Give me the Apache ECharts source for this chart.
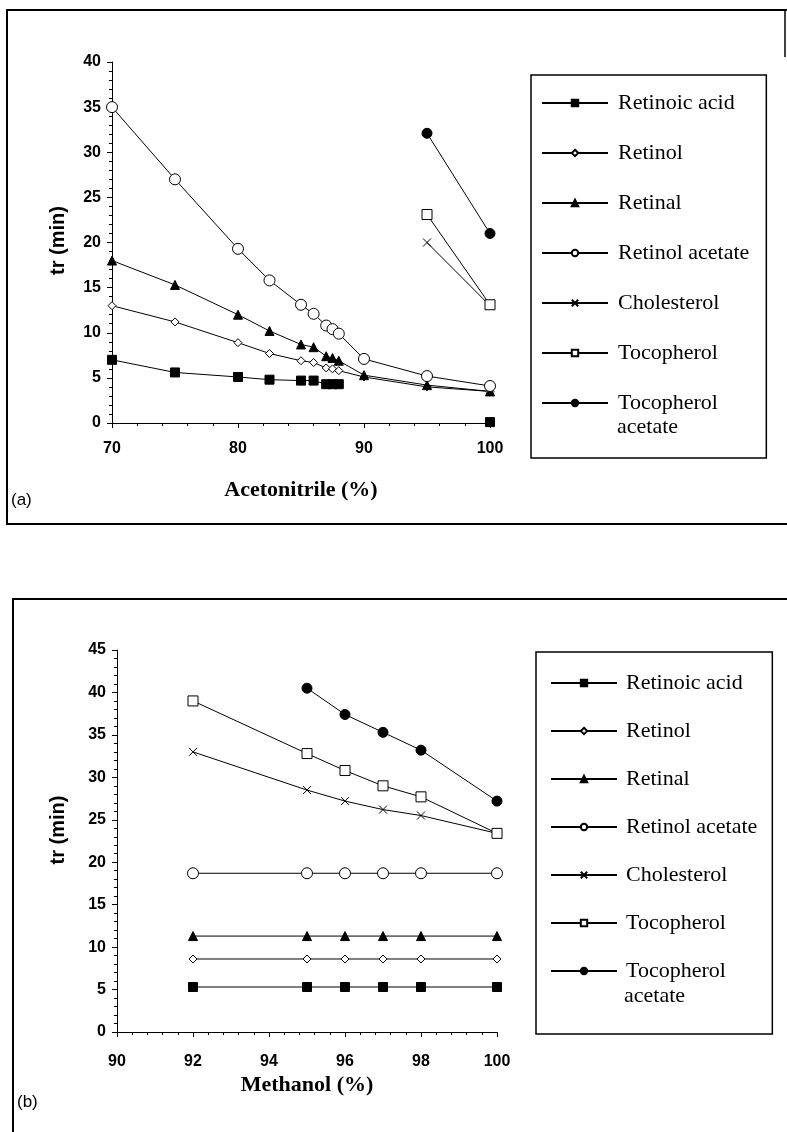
<!DOCTYPE html>
<html>
<head>
<meta charset="utf-8">
<script src="https://cdn.jsdelivr.net/npm/echarts@6/dist/echarts.min.js"></script>
<style>
  html, body { margin: 0; padding: 0; background: #fff; }
  #chart { width: 787px; height: 1132px; }
</style>
</head>
<body>
<div id="chart"></div>
<script>
// (a) acetonitrile
var acnX = [70, 75, 80, 82.5, 85, 86, 87, 87.5, 88, 90, 95, 100];
var acnRetinoicAcid = [7.0, 5.6, 5.1, 4.8, 4.7, 4.7, 4.3, 4.3, 4.3, null, null, 0.1];
var acnRetinol = [13.0, 11.2, 8.9, 7.7, 6.9, 6.7, 6.1, 6.0, 5.8, 5.1, 4.0, 3.5];
var acnRetinal = [18.0, 15.3, 12.0, 10.2, 8.7, 8.4, 7.4, 7.2, 6.9, 5.3, 4.2, 3.5];
var acnRetinolAcetate = [35.0, 27.0, 19.3, 15.8, 13.1, 12.1, 10.8, 10.4, 9.9, 7.1, 5.2, 4.1];
var acnCholesterol = [null, null, null, null, null, null, null, null, null, null, 20.0, 13.0];
var acnTocopherol = [null, null, null, null, null, null, null, null, null, null, 23.1, 13.1];
var acnTocopherolAcetate = [null, null, null, null, null, null, null, null, null, null, 32.1, 21.0];

// (b) methanol
var meohX = [92, 95, 96, 97, 98, 100];
var meohRetinoicAcid = [5.3, 5.3, 5.3, 5.3, 5.3, 5.3];
var meohRetinol = [8.6, 8.6, 8.6, 8.6, 8.6, 8.6];
var meohRetinal = [11.3, 11.3, 11.3, 11.3, 11.3, 11.3];
var meohRetinolAcetate = [18.7, 18.7, 18.7, 18.7, 18.7, 18.7];
var meohCholesterol = [33.0, 28.5, 27.2, 26.2, 25.5, 23.4];
var meohTocopherol = [39.0, 32.8, 30.8, 29.0, 27.7, 23.4];
var meohTocopherolAcetate = [null, 40.5, 37.4, 35.3, 33.2, 27.2];

var seriesNames = ['Retinoic acid', 'Retinol', 'Retinal', 'Retinol acetate', 'Cholesterol', 'Tocopherol', 'Tocopherol acetate'];
var yTicksA = [0, 5, 10, 15, 20, 25, 30, 35, 40];
var yTicksB = [0, 5, 10, 15, 20, 25, 30, 35, 40, 45];

// marker look per compound
var marks = {
  'Retinoic acid': { symbol: 'rect', size: 9, fill: '#000' },
  'Retinol': { symbol: 'diamond', size: 8, fill: '#fff' },
  'Retinal': { symbol: 'triangle', size: 9, fill: '#000' },
  'Retinol acetate': { symbol: 'circle', size: 11, fill: '#fff' },
  'Cholesterol': { symbol: 'path://M0,0L10,10M10,0L0,10', size: 8, fill: 'none' },
  'Tocopherol': { symbol: 'rect', size: 10, fill: '#fff' },
  'Tocopherol acetate': { symbol: 'circle', size: 10, fill: '#000' }
};

function pairs(xs, ys) {
  var out = [];
  for (var i = 0; i < xs.length; i++) {
    out.push([xs[i], ys[i] == null ? '-' : ys[i]]);
  }
  return out;
}

function makeSeries(name, xs, ys, idx) {
  var m = marks[name];
  return {
    name: name,
    type: 'line',
    xAxisIndex: idx,
    yAxisIndex: idx,
    data: pairs(xs, ys),
    symbol: m.symbol,
    symbolSize: m.size,
    showAllSymbol: true,
    connectNulls: false,
    animation: false,
    lineStyle: { color: '#000', width: 1 },
    itemStyle: { color: m.fill, borderColor: '#000', borderWidth: 1 },
    z: 3
  };
}

var series = [
  makeSeries('Retinoic acid', acnX, acnRetinoicAcid, 0),
  makeSeries('Retinol', acnX, acnRetinol, 0),
  makeSeries('Retinal', acnX, acnRetinal, 0),
  makeSeries('Retinol acetate', acnX, acnRetinolAcetate, 0),
  makeSeries('Cholesterol', acnX, acnCholesterol, 0),
  makeSeries('Tocopherol', acnX, acnTocopherol, 0),
  makeSeries('Tocopherol acetate', acnX, acnTocopherolAcetate, 0),
  makeSeries('Retinoic acid', meohX, meohRetinoicAcid, 1),
  makeSeries('Retinol', meohX, meohRetinol, 1),
  makeSeries('Retinal', meohX, meohRetinal, 1),
  makeSeries('Retinol acetate', meohX, meohRetinolAcetate, 1),
  makeSeries('Cholesterol', meohX, meohCholesterol, 1),
  makeSeries('Tocopherol', meohX, meohTocopherol, 1),
  makeSeries('Tocopherol acetate', meohX, meohTocopherolAcetate, 1)
];

var labelFont = { color: '#000', fontFamily: 'Liberation Sans', fontWeight: 'bold', fontSize: 16 };

function xAxisOf(idx, min, max, step, name, gap, margin) {
  return {
    type: 'value', gridIndex: idx, min: min, max: max, interval: step,
    name: name, nameLocation: 'middle', nameGap: gap,
    nameTextStyle: { color: '#000', fontFamily: 'Liberation Serif', fontWeight: 'bold', fontSize: 22 },
    axisLine: { show: true, onZero: false, lineStyle: { color: '#000', width: 1 } },
    axisTick: { show: true, inside: false, length: 5, lineStyle: { color: '#000' } },
    minorTick: { show: true, splitNumber: 5, length: 3, lineStyle: { color: '#000' } },
    splitLine: { show: false },
    axisLabel: Object.assign({ margin: margin }, labelFont)
  };
}

function yAxisOf(idx, ticks, gap, shift) {
  return {
    type: 'value', gridIndex: idx, min: ticks[0], max: ticks[ticks.length - 1], interval: 5,
    name: 'tr (min)', nameLocation: 'middle', nameGap: gap, nameRotate: 90,
    nameTextStyle: { color: '#000', fontFamily: 'Liberation Sans', fontWeight: 'bold', fontSize: 20, padding: [0, 0, 0, shift] },
    axisLine: { show: true, onZero: false, lineStyle: { color: '#000', width: 1 } },
    axisTick: { show: true, inside: false, length: 5, lineStyle: { color: '#000' } },
    minorTick: { show: true, splitNumber: 5, length: 3, lineStyle: { color: '#000' } },
    splitLine: { show: false },
    axisLabel: Object.assign({ margin: 11 }, labelFont)
  };
}

function legendOf(left, top, pad, gap, textPad) {
  return {
    show: true, orient: 'vertical', left: left, top: top,
    data: seriesNames, selectedMode: false,
    itemWidth: 66, itemHeight: 8, itemGap: gap,
    padding: pad,
    borderColor: '#000', borderWidth: 1.5, backgroundColor: '#fff',
    textStyle: { color: '#000', fontFamily: 'Liberation Serif', fontSize: 22, lineHeight: 24, padding: [0, 0, 0, textPad] },
    // second word of the last entry is set below the legend row
    formatter: function (name) {
      return name === 'Tocopherol acetate' ? 'Tocopherol' : name;
    }
  };
}

var chart = echarts.init(document.getElementById('chart'), null, { renderer: 'canvas' });
chart.setOption({
  backgroundColor: '#fff',
  animation: false,
  grid: [
    { left: 112, top: 62, width: 378, height: 361 },
    { left: 117, top: 650, width: 380, height: 382 }
  ],
  xAxis: [
    xAxisOf(0, 70, 100, 10, 'Acetonitrile (%)', 56, 18),
    xAxisOf(1, 90, 100, 2, 'Methanol (%)', 42, 22)
  ],
  yAxis: [
    yAxisOf(0, yTicksA, 44, 4),
    yAxisOf(1, yTicksB, 49, 22)
  ],
  legend: [
    legendOf(531, 75, [16, 17, 43, 10], 26, 5),
    legendOf(536, 652, [19, 15, 51, 14], 24, 4)
  ],
  series: series,
  graphic: [
    // panel (a) frame
    { type: 'polyline', silent: true, shape: { points: [[787, 10], [7, 10], [7, 524], [787, 524]] }, style: { stroke: '#000', lineWidth: 2, fill: null } },
    { type: 'line', silent: true, shape: { x1: 785, y1: 10, x2: 785, y2: 57 }, style: { stroke: '#000', lineWidth: 1.5 } },
    { type: 'text', left: 11, top: 492, style: { text: '(a)', fontFamily: 'Liberation Sans', fontSize: 17, fill: '#000' } },
    { type: 'text', left: 617, top: 416, z: 10, style: { text: 'acetate', fontFamily: 'Liberation Serif', fontSize: 22, fill: '#000' } },
    // panel (b) frame
    { type: 'polyline', silent: true, shape: { points: [[787, 599], [13, 599], [13, 1132]] }, style: { stroke: '#000', lineWidth: 2, fill: null } },
    { type: 'text', left: 17, top: 1094, style: { text: '(b)', fontFamily: 'Liberation Sans', fontSize: 17, fill: '#000' } },
    { type: 'text', left: 624, top: 985, z: 10, style: { text: 'acetate', fontFamily: 'Liberation Serif', fontSize: 22, fill: '#000' } }
  ]
});
</script>
</body>
</html>
